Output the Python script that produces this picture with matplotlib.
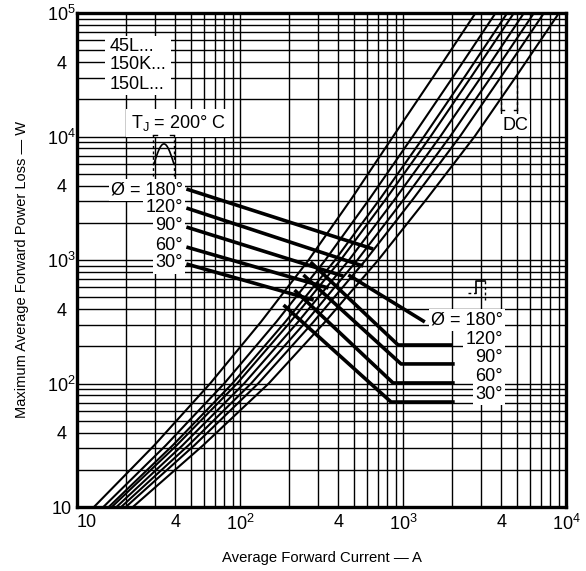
import numpy as np
import matplotlib
matplotlib.use('Agg')
import matplotlib.pyplot as plt
from matplotlib.ticker import FixedLocator, LogLocator, NullFormatter

plt.rcParams['font.family'] = ['Liberation Sans', 'DejaVu Sans']
plt.rcParams['mathtext.fontset'] = 'custom'
plt.rcParams['mathtext.rm'] = 'Liberation Sans'
plt.rcParams['mathtext.it'] = 'Liberation Sans:italic'

# ---------------- data ----------------
# power levels (W) at which the current of each curve was read
power_levels = [10, 31.6, 100, 316, 1000, 3160, 10000, 31600, 100000]
# average forward current (A) of each curve at those power levels
curve_a = [12.7, 29.8, 65.6, 134.6, 263.6, 485, 869, 1563, 2786]
curve_b = [14.5, 35.1, 80.0, 167.2, 333.8, 626.6, 1146, 2069, 3698]
curve_c = [15.65, 38.7, 89.8, 189.8, 383.1, 727.5, 1346, 2436, 4361]
curve_d = [16.35, 40.9, 96.0, 204.0, 414.4, 792.1, 1476, 2674, 4792]
curve_e = [17.46, 44.4, 106.0, 227.4, 466.5, 900.4, 1694, 3077, 5521]
curve_f = [18.65, 48.3, 117.0, 253.6, 524.8, 1023, 1945, 3539, 6360]
curve_g = [19.92, 52.5, 129.3, 282.7, 590.3, 1162, 2234, 4071, 7325]
curve_dc = [22.0, 59.4, 150, 333, 705, 1408, 2750, 5023, 9060]
curves = [curve_a, curve_b, curve_c, curve_d, curve_e, curve_f, curve_g, curve_dc]

# sinusoidal-wave leader lines (left labels): current and power of both ends
sine_labels = ['\u00d8 = 180\u00b0', '120\u00b0', '90\u00b0', '60\u00b0', '30\u00b0']
sine_lead_i = [[46.9, 656], [46.9, 570], [46.9, 430], [46.9, 349], [46.9, 283]]
sine_lead_p = [[3758, 1227], [2636, 893], [1849, 741], [1274, 593], [929, 474]]

# rectangular-wave leader lines (right labels)
rect_labels = ['\u00d8 = 180\u00b0', '120\u00b0', '90\u00b0', '60\u00b0', '30\u00b0']
rect_lead_i = [[462, 1361], [271, 933, 2018], [245, 973, 2075], [216, 869, 2075], [185, 845, 2075]]
rect_lead_p = [[757, 315], [963, 205, 205], [757, 144, 144], [571, 101, 101], [432, 70.8, 70.8]]

x_ticks = [10, 40, 100, 400, 1000, 4000, 10000]
x_ticklabels = ['10', '4', r'$\mathregular{10^2}$', '4', r'$\mathregular{10^3}$', '4', r'$\mathregular{10^4}$']
y_ticks = [10, 40, 100, 400, 1000, 4000, 10000, 40000, 100000]
y_ticklabels = ['10', '4', r'$\mathregular{10^2}$', '4', r'$\mathregular{10^3}$', '4',
                r'$\mathregular{10^4}$', '4', r'$\mathregular{10^5}$']

# ---------------- figure ----------------
fig = plt.figure(figsize=(5.86, 5.71), dpi=100)
ax = fig.add_axes([77/586, 1-507/571, 489/586, 494/571])
ax.set_xscale('log')
ax.set_yscale('log')
ax.set_xlim(10, 1e4)
ax.set_ylim(10, 1e5)

ax.xaxis.set_major_locator(FixedLocator(x_ticks))
ax.set_xticklabels(x_ticklabels)
ax.yaxis.set_major_locator(FixedLocator(y_ticks))
ax.set_yticklabels(y_ticklabels)
for axis in (ax.xaxis, ax.yaxis):
    axis.set_minor_locator(LogLocator(base=10, subs=np.arange(1, 10)))
    axis.set_minor_formatter(NullFormatter())
ax.tick_params(which='both', length=0, labelsize=13, colors='black')
ax.tick_params(axis='x', pad=5)
ax.tick_params(axis='y', pad=11)
for lab in ax.get_yticklabels():
    lab.set_horizontalalignment('center')
ax.get_xticklabels()[0].set_horizontalalignment('left')

ax.grid(which='both', color='black', lw=1.0, zorder=0)
ax.set_axisbelow(True)
for s in ax.spines.values():
    s.set_linewidth(2.4)
    s.set_zorder(6)

for c in curves:
    ax.plot(c, power_levels, color='black', lw=1.5, zorder=3, solid_capstyle='butt')

for xs, ys in zip(sine_lead_i, sine_lead_p):
    ax.plot(xs, ys, color='black', lw=2.6, zorder=4, solid_capstyle='butt')
for xs, ys in zip(rect_lead_i, rect_lead_p):
    ax.plot(xs, ys, color='black', lw=2.6, zorder=4, solid_capstyle='butt')

box = dict(facecolor='white', edgecolor='none', pad=1.5)
tf = ax.transAxes
fs = 13

# type labels (one white block behind them)
ax.add_patch(plt.Rectangle((0.058, 0.834), 0.135, 0.120, transform=tf, facecolor='white',
                           edgecolor='none', zorder=4.5))
for txt, yy in zip(['45L...', '150K...', '150L...'], [0.933, 0.895, 0.856]):
    ax.text(0.0675, yy, txt, transform=tf, ha='left', va='center', fontsize=fs, zorder=5)

ax.text(0.2065, 0.777, 'T$_\\mathregular{J}$ = 200\u00b0 C', transform=tf, ha='center', va='center',
        fontsize=fs, bbox=dict(facecolor='white', edgecolor='none', pad=3), zorder=5)

# left (sine) labels
for txt, yy in zip(sine_labels, [0.6417, 0.607, 0.569, 0.530, 0.494]):
    ax.text(0.2168, yy, txt, transform=tf, ha='right', va='center', fontsize=fs, bbox=box, zorder=5)

# right (rectangular) labels
for txt, yy in zip(rect_labels, [0.3785, 0.340, 0.3036, 0.265, 0.2287]):
    ax.text(0.871, yy, txt, transform=tf, ha='right', va='center', fontsize=fs, bbox=box, zorder=5)

ax.text(0.8957, 0.773, 'DC', transform=tf, ha='center', va='center', fontsize=fs, bbox=box, zorder=5)

# half-sine icon
th = np.linspace(0, np.pi, 40)
hx = 0.1575 + (0.198 - 0.1575) * th / np.pi
hy = 0.695 + 0.040 * np.sin(th)
ax.plot(hx, hy, color='black', lw=1.2, transform=tf, zorder=5)
for xv in (0.155, 0.198):
    ax.plot([xv, xv], [0.670, 0.753], color='black', lw=1.0, ls=(0, (2, 2)), transform=tf, zorder=5)
ax.plot([0.155, 0.163], [0.753, 0.753], color='black', lw=1.0, transform=tf, zorder=5)
ax.plot([0.190, 0.198], [0.753, 0.753], color='black', lw=1.0, transform=tf, zorder=5)

# rectangular pulse icon
ax.plot([0.800, 0.816], [0.433, 0.433], color='black', lw=1.0, ls=(0, (2, 2)), transform=tf, zorder=5)
ax.plot([0.816, 0.816, 0.834], [0.433, 0.4575, 0.4575], color='black', lw=1.2, transform=tf, zorder=5)
ax.plot([0.834, 0.834], [0.4575, 0.419], color='black', lw=1.0, ls=(0, (2, 2)), transform=tf, zorder=5)

# DC bracket
for xv, dx in ((0.867, 0.006), (0.900, -0.006)):
    ax.plot([xv, xv], [0.803, 0.858], color='black', lw=1.0, ls=(0, (2, 2)), transform=tf, zorder=5)
    ax.plot([xv, xv + dx], [0.803, 0.803], color='black', lw=1.0, transform=tf, zorder=5)

fig.text(322/586, 1-558/571, 'Average Forward Current \u2014 A', ha='center', va='center', fontsize=10.7)
fig.text(22/586, 1-270/571, 'Maximum Average Forward Power Loss \u2014 W', ha='center', va='center',
         rotation=90, fontsize=10.5)

fig.savefig('out.png', dpi=100, facecolor='white')
